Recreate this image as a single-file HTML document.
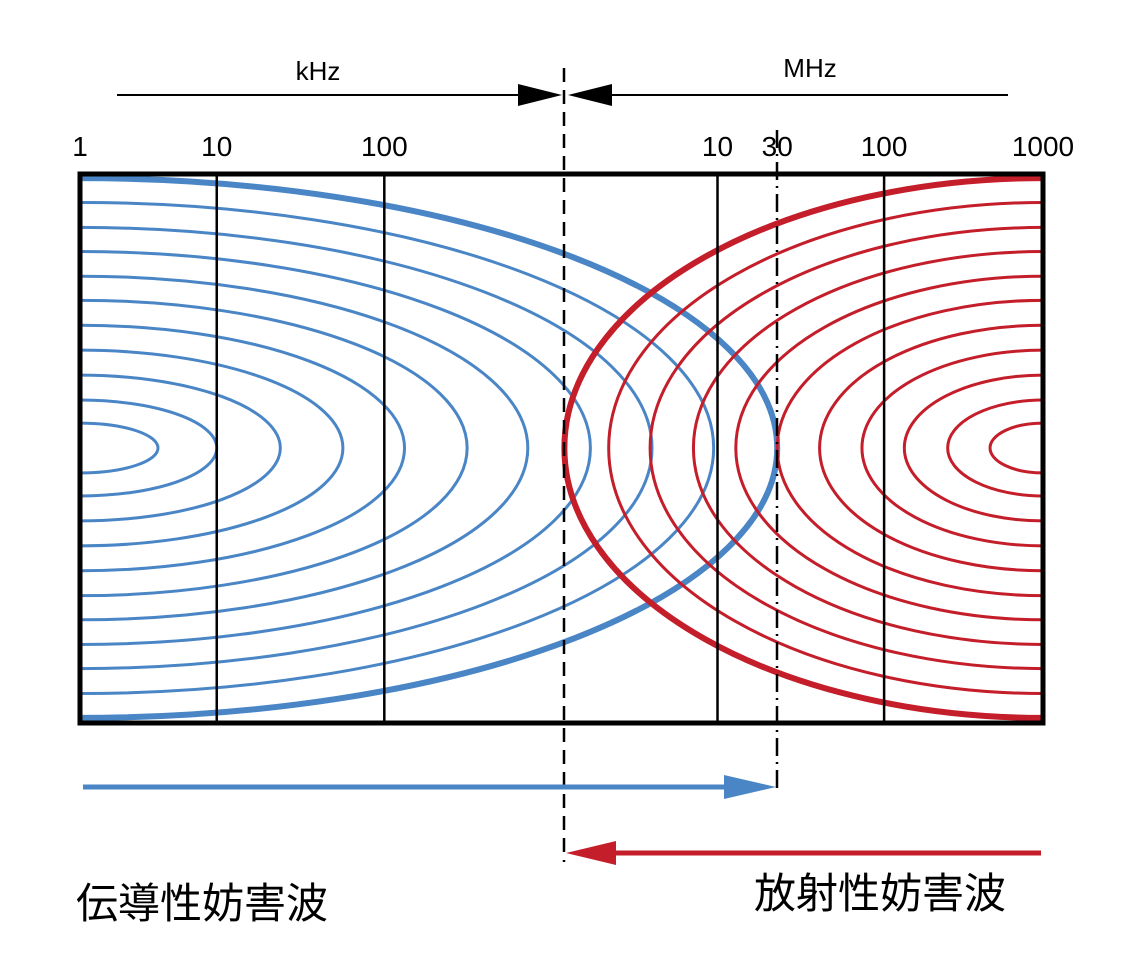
<!DOCTYPE html>
<html><head><meta charset="utf-8"><style>
body{margin:0;background:#fff}
svg{display:block}
text{font-family:"Liberation Sans","Noto Sans CJK JP",sans-serif}
</style></head><body>
<svg id="chart" width="1122" height="958" viewBox="0 0 1122 958">
<defs><clipPath id="box"><rect x="80" y="174" width="963" height="549"/></clipPath></defs>
<g id="blue" clip-path="url(#box)"></g>
<g id="red" clip-path="url(#box)"></g>
<g id="grid"></g>
<rect x="80" y="174" width="963" height="549" fill="none" stroke="#000" stroke-width="5"/>
<line x1="564" y1="68" x2="564" y2="862" stroke="#000" stroke-width="2.5" stroke-dasharray="14,8"/>
<line x1="777" y1="130" x2="777" y2="792" stroke="#000" stroke-width="2.5" stroke-dasharray="18,6,2,6"/>
<g id="ticks"></g>
<text x="318" y="80" font-size="26" text-anchor="middle">kHz</text>
<text x="810" y="77" font-size="26" text-anchor="middle">MHz</text>
<line x1="117" y1="95" x2="530" y2="95" stroke="#000" stroke-width="2"/>
<polygon points="518,84 562,95 518,106" fill="#000"/>
<line x1="600" y1="95" x2="1008" y2="95" stroke="#000" stroke-width="2"/>
<polygon points="612,84 568,95 612,106" fill="#000"/>
<line x1="83" y1="787" x2="730" y2="787" stroke="#4a86c6" stroke-width="5"/>
<polygon points="724,775 776,787 724,799" fill="#4a86c6"/>
<line x1="1041" y1="853" x2="610" y2="853" stroke="#c41e2a" stroke-width="5"/>
<polygon points="616,841 566,853 616,865" fill="#c41e2a"/>
<text x="76" y="918" font-size="42">伝導性妨害波</text>
<text x="754" y="908" font-size="42">放射性妨害波</text>
</svg>
<script>
// conducted (blue) ellipse extents: fraction of box width / half-height
const blueReach=[0.081,0.142,0.208,0.273,0.337,0.402,0.465,0.530,0.594,0.658];
const blueHeight=[0.091,0.175,0.266,0.357,0.448,0.539,0.627,0.717,0.805,0.896];
const blueOuter=[0.724,0.985];
const redReach=[0.055,0.099,0.144,0.188,0.232,0.276,0.319,0.363,0.408,0.451];
const redHeight=[0.091,0.175,0.266,0.357,0.448,0.539,0.627,0.717,0.805,0.896];
const redOuter=[0.497,0.985];
const gridFreqs=["10k","100k","10M","100M"];
const gridPos=[0.142,0.316,0.662,0.835];
const tickLabels=["1","10","100","10","30","100","1000"];
const tickVals=[0,0.142,0.316,0.662,0.724,0.835,1.0];
const X0=80,W=963,CY=448,H=274;
const sx=v=>X0+v*W, sr=v=>v*W, sy=v=>v*H;
const NS="http://www.w3.org/2000/svg";
function ell(g,cx,rx,ry,col,w,name){
 const e=document.createElementNS(NS,"ellipse");
 e.setAttribute("cx",cx);e.setAttribute("cy",CY);e.setAttribute("rx",rx);e.setAttribute("ry",ry);
 e.setAttribute("fill","none");e.setAttribute("stroke",col);e.setAttribute("stroke-width",w);
 
 
 g.appendChild(e);}
const bg=document.getElementById("blue"),rg=document.getElementById("red");
blueReach.forEach((r,i)=>ell(bg,X0,sr(r),sy(blueHeight[i]),"#4a86c6",3,"conducted-ellipse"));
ell(bg,X0,sr(blueOuter[0]),sy(blueOuter[1]),"#4a86c6",6,"conducted-outer-ellipse");
redReach.forEach((r,i)=>ell(rg,X0+W,sr(r),sy(redHeight[i]),"#c41e2a",3,"radiated-ellipse"));
ell(rg,X0+W,sr(redOuter[0]),sy(redOuter[1]),"#c41e2a",6,"radiated-outer-ellipse");
const gg=document.getElementById("grid");
gridPos.forEach((p,i)=>{const l=document.createElementNS(NS,"line");
 l.setAttribute("x1",sx(p));l.setAttribute("x2",sx(p));l.setAttribute("y1",174);l.setAttribute("y2",723);
 l.setAttribute("stroke","#000");l.setAttribute("stroke-width",2.5);
 
 
 gg.appendChild(l);});
const tg=document.getElementById("ticks");
tickLabels.forEach((t,i)=>{const e=document.createElementNS(NS,"text");
 e.setAttribute("x",sx(tickVals[i]));e.setAttribute("y",156);e.setAttribute("font-size",28);
 e.setAttribute("text-anchor","middle");e.textContent=t;
 
 
 tg.appendChild(e);});
</script>
</body></html>
